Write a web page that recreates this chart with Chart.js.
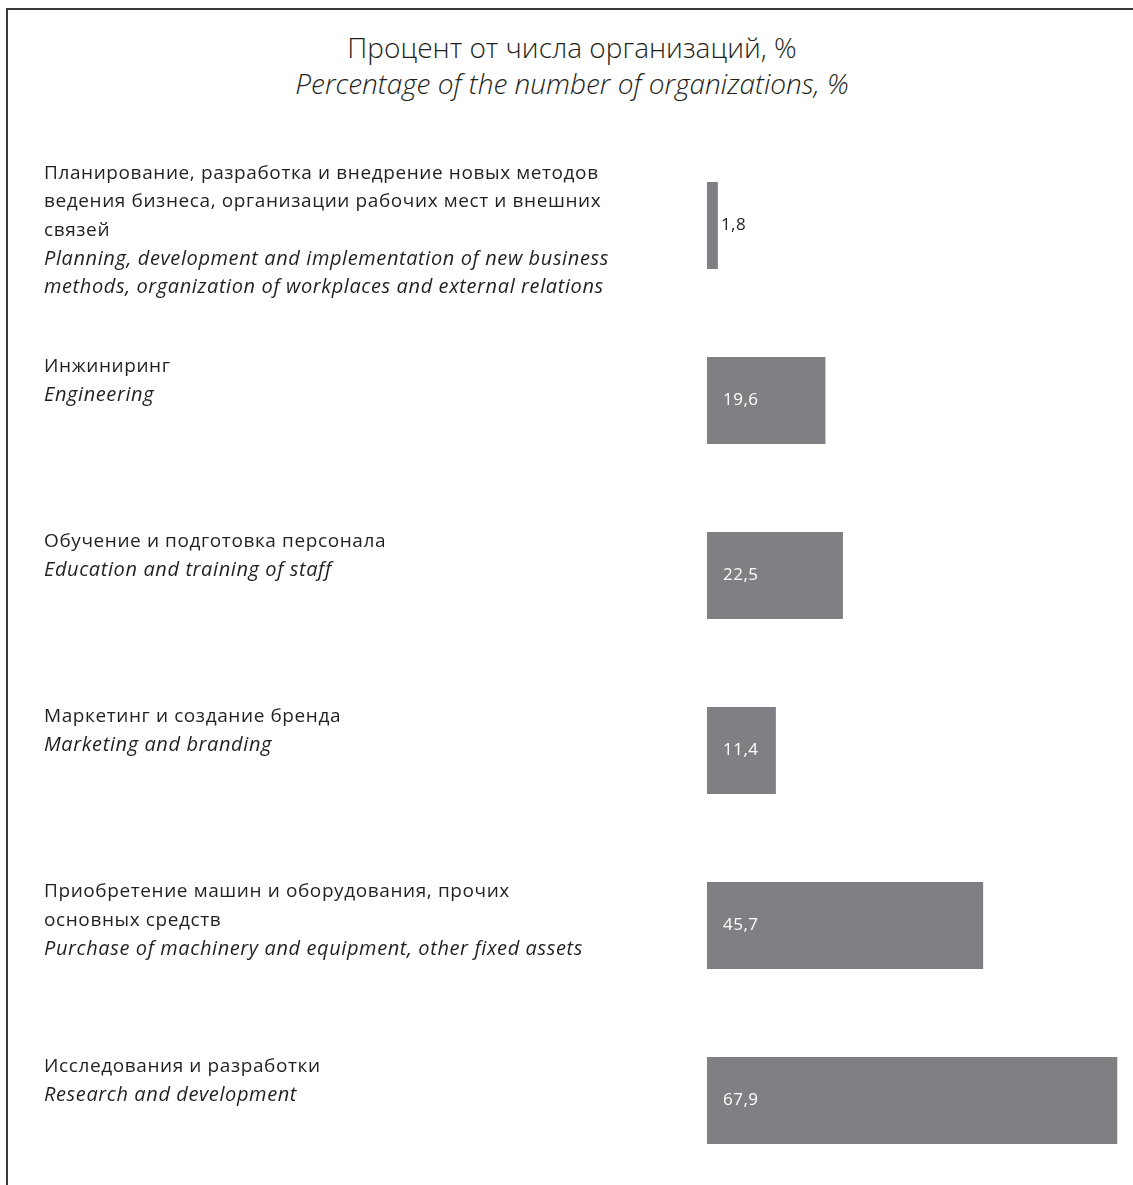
<!DOCTYPE html>
<html>
<head>
<meta charset="utf-8">
<script src="https://cdn.jsdelivr.net/npm/chart.js@4.4.0/dist/chart.umd.min.js"></script>
<style>
  html, body { margin: 0; padding: 0; background: #ffffff; overflow: hidden; }
  #wrap { position: relative; width: 1133px; height: 1185px; }
  #frame { position: absolute; left: 6px; top: 8px; width: 1200px; height: 1300px;
           border-top: 2px solid #3a3a3a; border-left: 2px solid #3a3a3a; box-sizing: border-box; }
  #title { position: absolute; left: 0; top: 29px; width: 1144px; text-align: center;
           font-family: "Open Sans", sans-serif; font-weight: 300; color: #231f20; font-size: 28px; line-height: 36px; }
  #title .en { font-style: italic; }
  canvas { position: absolute; left: 0; top: 0; }
</style>
</head>
<body>
<div id="wrap">
  <div id="frame"></div>
  <div id="title">Процент от числа организаций, %<br><span class="en">Percentage of the number of organizations, %</span></div>
  <canvas id="c" width="1133" height="1200"></canvas>
</div>
<script>
const categoriesRu = [
  ["Планирование, разработка и внедрение новых методов", "ведения бизнеса, организации рабочих мест и внешних", "связей"],
  ["Инжиниринг"],
  ["Обучение и подготовка персонала"],
  ["Маркетинг и создание бренда"],
  ["Приобретение машин и оборудования, прочих", "основных средств"],
  ["Исследования и разработки"]
];
const categoriesEn = [
  ["Planning, development and implementation of new business", "methods, organization of workplaces and external relations"],
  ["Engineering"],
  ["Education and training of staff"],
  ["Marketing and branding"],
  ["Purchase of machinery and equipment, other fixed assets"],
  ["Research and development"]
];
const values = [1.8, 19.6, 22.5, 11.4, 45.7, 67.9];
const valueLabels = ["1,8", "19,6", "22,5", "11,4", "45,7", "67,9"];

const FONT = '"Open Sans", sans-serif';
const TEXT = '#231f20';

const labelPlugin = {
  id: 'sideLabels',
  afterDatasetsDraw(chart) {
    const ctx = chart.ctx;
    const meta = chart.getDatasetMeta(0);
    const lh = 28.5;
    ctx.save();
    ctx.textBaseline = 'middle';
    meta.data.forEach((bar, i) => {
      const p = bar.getProps(['x', 'y', 'base', 'height'], true);
      const top = p.y - p.height / 2;
      const lines = categoriesRu[i].map(t => [t, false]).concat(categoriesEn[i].map(t => [t, true]));
      const n = lines.length;
      let first = Math.min(top + 10, p.y - (n - 1) / 2 * lh + 5);
      lines.forEach(([t, it], k) => {
        ctx.letterSpacing = '0.6px';
        ctx.font = it ? 'italic 20px ' + FONT : '19px ' + FONT;
        ctx.fillStyle = TEXT;
        ctx.textAlign = 'left';
        ctx.fillText(t, 44, first + k * lh);
      });
      // value label
      ctx.letterSpacing = '0.5px';
      ctx.font = '17px ' + FONT;
      const inside = (p.x - p.base) > 40;
      ctx.fillStyle = inside ? '#ffffff' : TEXT;
      ctx.fillText(valueLabels[i], inside ? p.base + 16 : p.x + 3, p.y);
    });
    ctx.restore();
  }
};

new Chart(document.getElementById('c'), {
  type: 'bar',
  data: {
    labels: categoriesRu.map(l => l.join(' ')),
    datasets: [{
      data: values,
      backgroundColor: '#808084',
      borderWidth: 0,
      barPercentage: 0.497,
      categoryPercentage: 1.0
    }]
  },
  options: {
    indexAxis: 'y',
    responsive: false,
    animation: false,
    devicePixelRatio: 1,
    layout: { padding: { left: 707, right: 0, top: 138, bottom: 12 } },
    plugins: { legend: { display: false }, tooltip: { enabled: false }, title: { display: false } },
    scales: {
      x: { display: false, min: 0, max: 70.5, grid: { display: false } },
      y: { display: false, grid: { display: false } }
    }
  },
  plugins: [labelPlugin]
});
</script>
</body>
</html>
